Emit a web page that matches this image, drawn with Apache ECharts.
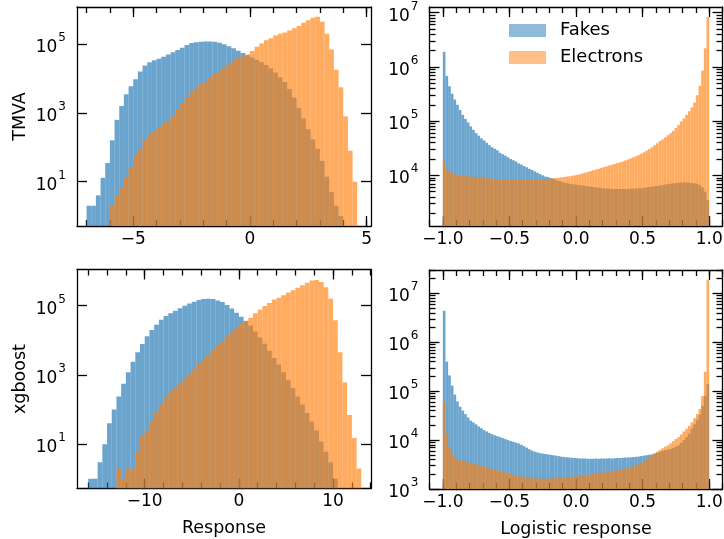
<!DOCTYPE html>
<html>
<head>
<meta charset="utf-8">
<script src="https://cdn.jsdelivr.net/npm/echarts@6/dist/echarts.min.js"></script>
<style>
  body { margin: 0; background: #fff; }
  #chart { width: 724px; height: 539px; }
</style>
</head>
<body>
<div id="chart"></div>
<script>
// histogram counts, one value per bin (bins given by start + width)
const tlStart = -7.0, tlWidth = 0.2;
const tlFakes = [2,2,4,13,35,160,630,1600,3500,6000,
  9500,1.6e4,2.4e4,3.0e4,3.4e4,3.8e4,4.3e4,5.0e4,5.8e4,6.8e4,
  7.9e4,9.5e4,1.08e5,1.15e5,1.18e5,1.2e5,1.2e5,1.18e5,1.1e5,1.0e5,
  8.8e4,7.6e4,6.5e4,5.6e4,4.8e4,4.1e4,3.5e4,3.0e4,2.5e4,2.0e4,
  1.5e4,1.1e4,8000,5000,2800,1400,700,340,170,90,
  40,14,5,2,1,0,0,0,0,0];
const tlElectrons = [0,0,0,0,0,2,4,7,13,25,
  60,90,160,240,300,380,480,600,800,1250,
  1850,2700,4000,5200,6800,8300,1.05e4,1.35e4,1.65e4,2.1e4,
  2.6e4,3.3e4,4.0e4,4.5e4,5.0e4,6.3e4,8.5e4,1.05e5,1.3e5,1.5e5,
  1.8e5,2.0e5,2.2e5,2.5e5,2.9e5,3.4e5,4.2e5,5.0e5,5.9e5,6.3e5,
  4.5e5,2.0e5,7.0e4,1.8e4,5600,800,80,10,0,0];

const blStart = -16.0, blWidth = 0.5;
const blFakes = [1,1,3,10,40,100,240,560,1200,2400,
  4500,7800,1.3e4,2.0e4,2.8e4,3.9e4,5.0e4,6.1e4,7.2e4,8.4e4,
  1.0e5,1.15e5,1.3e5,1.45e5,1.55e5,1.6e5,1.55e5,1.42e5,1.28e5,1.05e5,
  8.3e4,6.3e4,4.8e4,3.6e4,2.7e4,1.8e4,1.2e4,8000,5000,3100,
  2000,1200,700,420,240,140,80,45,25,12,
  6,3,1,0,0,0,0,0];
const blElectrons = [0,0,0,0,0,0,2,1,2,2,
  6,18,25,45,85,140,220,320,420,560,
  780,1100,1500,2100,2800,3800,5200,7000,9500,1.3e4,
  1.7e4,2.3e4,3.0e4,3.7e4,4.5e4,6.0e4,7.8e4,9.8e4,1.2e5,1.5e5,
  1.7e5,2.0e5,2.4e5,2.8e5,3.3e5,3.9e5,4.6e5,5.3e5,5.5e5,4.8e5,
  3.4e5,1.6e5,3.8e4,4500,600,70,15,2];

const logStart = -1.0, logWidth = 0.02;
const trFakes = [1.9e6,6.8e5,4.4e5,3.2e5,2.5e5,2.0e5,1.6e5,1.3e5,1.1e5,9.5e4,
  8.0e4,6.9e4,6.0e4,5.4e4,4.8e4,4.4e4,4.0e4,3.6e4,3.3e4,3.1e4,
  2.9e4,2.6e4,2.45e4,2.3e4,2.15e4,2.0e4,1.9e4,1.8e4,1.66e4,1.58e4,
  1.48e4,1.41e4,1.32e4,1.26e4,1.18e4,1.12e4,1.05e4,1.0e4,9500,9300,
  8900,8700,8300,7900,7700,7400,7200,7000,6900,6800,
  6700,6600,6500,6400,6300,6200,6100,6000,5900,5800,
  5800,5700,5700,5600,5600,5600,5600,5600,5600,5600,
  5700,5700,5700,5800,5800,5900,6000,6100,6200,6300,
  6400,6500,6600,6800,6900,7000,7100,7200,7300,7400,
  7400,7400,7300,7200,7100,7000,6600,6000,5000,3500];
const trElectrons = [1.8e4,1.3e4,1.15e4,1.08e4,1.05e4,1.02e4,1.0e4,9800,9700,9600,
  9500,9400,9300,9200,9100,9000,8900,8800,8700,8600,
  8500,8500,8400,8400,8300,8300,8300,8300,8200,8300,
  8300,8300,8300,8300,8300,8400,8400,8400,8500,8600,
  8700,8800,8900,9000,9200,9300,9500,9600,9800,1.0e4,
  1.02e4,1.05e4,1.09e4,1.12e4,1.16e4,1.2e4,1.24e4,1.28e4,1.32e4,1.36e4,
  1.42e4,1.47e4,1.52e4,1.57e4,1.62e4,1.68e4,1.74e4,1.8e4,1.88e4,1.96e4,
  2.05e4,2.15e4,2.25e4,2.37e4,2.5e4,2.65e4,2.85e4,3.05e4,3.3e4,3.6e4,
  3.9e4,4.3e4,4.6e4,5.0e4,5.5e4,6.0e4,6.6e4,7.5e4,8.5e4,9.8e4,
  1.12e5,1.3e5,1.52e5,1.8e5,2.2e5,3.0e5,4.5e5,8.5e5,2.2e6,8.3e6];
const brFakes = [4.4e6,4.0e5,2.1e5,1.3e5,8.5e4,6.2e4,4.8e4,4.0e4,3.4e4,2.9e4,
  2.5e4,2.3e4,2.1e4,1.9e4,1.75e4,1.6e4,1.5e4,1.4e4,1.32e4,1.25e4,
  1.2e4,1.15e4,1.1e4,1.05e4,1.0e4,9600,9200,8900,8500,8000,
  7500,7000,6500,6100,5800,5600,5400,5300,5200,5100,
  5000,4900,4800,4700,4600,4500,4450,4400,4350,4300,
  4250,4200,4200,4200,4150,4150,4150,4200,4150,4200,
  4200,4200,4250,4200,4250,4300,4300,4350,4400,4400,
  4450,4500,4550,4600,4700,4800,4900,5000,5100,5300,
  5500,5700,6000,6200,6400,6600,6900,7300,7800,8800,
  1.0e4,1.15e4,1.35e4,1.7e4,2.1e4,2.6e4,3.3e4,5.0e4,8.0e4,1.4e5];
const brElectrons = [6.0e4,1.35e4,7200,5300,4500,4100,3900,3700,3600,3500,
  3400,3300,3200,3100,2950,2850,2750,2650,2550,2450,
  2400,2300,2250,2200,2100,2000,1950,1900,1850,1800,
  1750,1700,1700,1650,1650,1650,1600,1650,1600,1650,
  1650,1650,1700,1700,1700,1750,1750,1750,1800,1800,
  1800,1850,1900,1900,1950,2000,2050,2050,2100,2150,
  2200,2200,2250,2300,2350,2400,2450,2500,2600,2700,
  2800,2900,3000,3200,3400,3700,4000,4400,4800,5300,
  5800,6300,6800,7300,7800,8600,9500,1.05e4,1.15e4,1.3e4,
  1.5e4,1.7e4,1.95e4,2.3e4,2.8e4,3.4e4,4.3e4,8.0e4,2.5e5,1.9e7];

// tick values
const tlXTicks = [-5, 0, 5];
const blXTicks = [-10, 0, 10];
const logXTicks = [-1.0, -0.5, 0.0, 0.5, 1.0];
const leftYTicks = [1e1, 1e3, 1e5];
const trYTicks = [1e4, 1e5, 1e6, 1e7];
const brYTicks = [1e3, 1e4, 1e5, 1e6, 1e7];

const FONT = 'DejaVu Sans';
const BLUE = 'rgba(31,119,180,0.66)';
const ORANGE = 'rgba(255,127,14,0.66)';

function steps(from, to, step) {
  let out = [];
  for (let v = from; v <= to + 1e-9; v += step) out.push(Math.round(v * 1000) / 1000);
  return out;
}
function logMinors(lo, hi) {
  let out = [];
  for (let e = lo; e <= hi; e++) for (let m = 2; m <= 9; m++) out.push(m * Math.pow(10, e));
  return out;
}

const line = {color: '#000', width: 1.3};

function xAxes(g, min, max, majors, minors, dec, name) {
  const base = {type: 'value', gridIndex: g, min: min, max: max, splitLine: {show: false},
    axisLine: {show: true, onZero: false, lineStyle: line}};
  const fmt = function (v) {
    return (v < -1e-9 ? '\u2212' : '') + Math.abs(v).toFixed(dec);
  };
  return [
    Object.assign({}, base, {position: 'bottom', name: name || '', nameLocation: 'middle', nameGap: 31,
      nameTextStyle: {fontFamily: FONT, fontSize: 17.5, color: '#000'},
      axisTick: {inside: true, length: 10, customValues: majors, lineStyle: line},
      axisLabel: {customValues: majors, formatter: fmt, margin: 5, fontFamily: FONT, fontSize: 17, color: '#000', hideOverlap: false}}),
    Object.assign({}, base, {position: 'top',
      axisTick: {inside: true, length: 10, customValues: majors, lineStyle: line}, axisLabel: {show: false}}),
    Object.assign({}, base, {position: 'bottom', axisLine: {show: false, onZero: false},
      axisTick: {inside: true, length: 6, customValues: minors, lineStyle: line}, axisLabel: {show: false}}),
    Object.assign({}, base, {position: 'top', axisLine: {show: false, onZero: false},
      axisTick: {inside: true, length: 6, customValues: minors, lineStyle: line}, axisLabel: {show: false}})
  ];
}

function yAxes(g, min, max, majors, minors, name) {
  const base = {type: 'log', logBase: 10, gridIndex: g, min: min, max: max, splitLine: {show: false},
    axisLine: {show: true, onZero: false, lineStyle: line}};
  const fmt = function (v) {
    return '{b|10}{e|' + Math.round(Math.log10(v)) + '}';
  };
  let axes = [
    Object.assign({}, base, {position: 'left', name: name || '', nameLocation: 'middle', nameGap: 48,
      nameTextStyle: {fontFamily: FONT, fontSize: 17.5, color: '#000'},
      axisTick: {inside: true, length: 10, customValues: majors, lineStyle: line},
      axisLabel: {customValues: majors, formatter: fmt, margin: 11, hideOverlap: false,
        rich: {
          b: {fontFamily: FONT, fontSize: 17, color: '#000', verticalAlign: 'bottom', lineHeight: 24},
          e: {fontFamily: FONT, fontSize: 12, color: '#000', verticalAlign: 'top', lineHeight: 24, padding: [0, 0, 0, 1]}
        }}}),
    Object.assign({}, base, {position: 'right',
      axisTick: {inside: true, length: 10, customValues: majors, lineStyle: line}, axisLabel: {show: false}})
  ];
  if (minors) {
    ['left', 'right'].forEach(function (p) {
      axes.push(Object.assign({}, base, {position: p, axisLine: {show: false, onZero: false},
        axisTick: {inside: true, length: 6, customValues: minors, lineStyle: line}, axisLabel: {show: false}}));
    });
  }
  return axes;
}

function histSeries(name, counts, start, width, axisIdx, color) {
  const data = counts.map(function (c, i) { return [start + width * (i + 0.5), c]; });
  return {
    type: 'custom', name: name, xAxisIndex: axisIdx.x, yAxisIndex: axisIdx.y,
    data: data, clip: true, silent: true,
    itemStyle: {color: color},
    renderItem: function (params, api) {
      const x = api.value(0), y = api.value(1);
      if (!(y > 0)) return;
      const p0 = api.coord([x - width / 2, y]);
      const p1 = api.coord([x + width / 2, y]);
      const cs = params.coordSys;
      const rect = echarts.graphic.clipRectByRect({
        x: p0[0], y: p0[1], width: p1[0] - p0[0], height: cs.y + cs.height - p0[1]
      }, {x: cs.x, y: cs.y, width: cs.width, height: cs.height});
      if (!rect) return;
      return {type: 'rect', shape: rect, style: {fill: color}};
    }
  };
}

const grids = [
  {left: 77, top: 7, width: 294, height: 219},
  {left: 429.5, top: 7, width: 293, height: 219},
  {left: 77, top: 269.5, width: 294, height: 219},
  {left: 429.5, top: 270, width: 293, height: 219}
].map(function (g) { return Object.assign({outerBoundsMode: 'none', containLabel: false}, g); });

let xAxis = [], yAxis = [];
const idx = [];
function addPanel(g, xa, ya) {
  idx[g] = {x: xAxis.length, y: yAxis.length};
  xAxis = xAxis.concat(xa);
  yAxis = yAxis.concat(ya);
}
addPanel(0, xAxes(0, -7.41, 5.19, tlXTicks, steps(-7, 5, 1), 0),
  yAxes(0, 0.515, 1.21e6, leftYTicks, null, 'TMVA'));
addPanel(1, xAxes(1, -1.1, 1.1, logXTicks, steps(-1.1, 1.1, 0.1), 1),
  yAxes(1, 1165, 1.27e7, trYTicks, logMinors(3, 7)));
addPanel(2, xAxes(2, -17.19, 14.03, blXTicks, steps(-16, 14, 2), 0, 'Response'),
  yAxes(2, 0.525, 1.11e6, leftYTicks, null, 'xgboost'));
addPanel(3, xAxes(3, -1.1, 1.1, logXTicks, steps(-1.1, 1.1, 0.1), 1, 'Logistic response'),
  yAxes(3, 999.99, 3.0e7, brYTicks, logMinors(3, 7)));

const series = [
  histSeries('Fakes', tlFakes, tlStart, tlWidth, idx[0], BLUE),
  histSeries('Electrons', tlElectrons, tlStart, tlWidth, idx[0], ORANGE),
  histSeries('Fakes', trFakes, logStart, logWidth, idx[1], BLUE),
  histSeries('Electrons', trElectrons, logStart, logWidth, idx[1], ORANGE),
  histSeries('Fakes', blFakes, blStart, blWidth, idx[2], BLUE),
  histSeries('Electrons', blElectrons, blStart, blWidth, idx[2], ORANGE),
  histSeries('Fakes', brFakes, logStart, logWidth, idx[3], BLUE),
  histSeries('Electrons', brElectrons, logStart, logWidth, idx[3], ORANGE)
];

const chart = echarts.init(document.getElementById('chart'), null, {renderer: 'canvas'});
chart.setOption({
  animation: false,
  backgroundColor: '#fff',
  grid: grids,
  xAxis: xAxis,
  yAxis: yAxis,
  legend: {
    data: [
      {name: 'Fakes', itemStyle: {color: '#8fbbd9'}},
      {name: 'Electrons', itemStyle: {color: '#ffbf86'}}
    ],
    orient: 'vertical', left: 504, top: 15.5, icon: 'rect',
    itemWidth: 37, itemHeight: 13, itemGap: 7, selectedMode: false,
    textStyle: {fontFamily: FONT, fontSize: 18, color: '#000', lineHeight: 20, padding: [0, 0, 0, 9]}
  },
  series: series
});
</script>
</body>
</html>
